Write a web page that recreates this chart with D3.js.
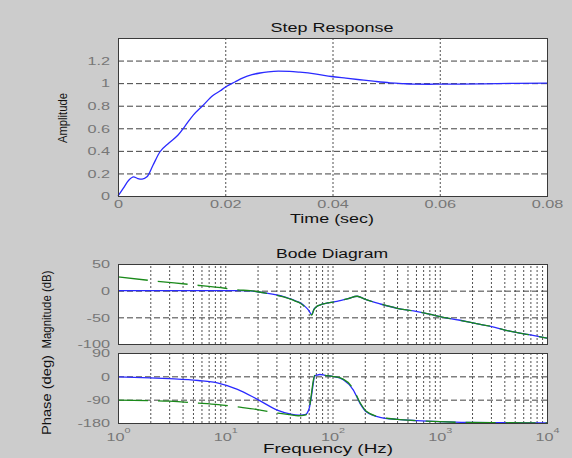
<!DOCTYPE html>
<html>
<head>
<meta charset="utf-8">
<script src="https://cdn.jsdelivr.net/npm/d3@7"></script>
<style>
body { margin: 0; background: #cccccc; }
text { font-family: "Liberation Sans", Arial, sans-serif; }
</style>
</head>
<body>
<svg id="fig" width="572" height="458"></svg>
<script>
// step response (sec, amplitude)
const stepTime = [0, 0.001, 0.002, 0.0029, 0.0037, 0.0045, 0.0054, 0.0065, 0.0078, 0.0095, 0.0112, 0.0125, 0.014, 0.0158, 0.0177, 0.019, 0.0202, 0.0218, 0.0233, 0.025, 0.0265, 0.028, 0.0299, 0.032, 0.0339, 0.037, 0.0398, 0.0425, 0.0451, 0.048, 0.0507, 0.053, 0.0551, 0.058, 0.0601, 0.064, 0.0682, 0.074, 0.08];
const stepAmp  = [0, 0.07, 0.14, 0.17, 0.155, 0.15, 0.17, 0.27, 0.39, 0.47, 0.54, 0.62, 0.715, 0.80, 0.89, 0.93, 0.97, 1.01, 1.047, 1.075, 1.09, 1.1, 1.106, 1.104, 1.097, 1.08, 1.059, 1.044, 1.03, 1.015, 1.003, 0.996, 0.991, 0.99, 0.991, 0.992, 0.994, 0.998, 1.0];

// bode magnitude (Hz, dB)
const magFreq  = [1, 2, 5, 10, 13, 17, 20, 25, 30, 35, 40, 45, 50, 55, 60, 64, 67, 70, 76, 90, 110, 140, 170, 200, 280, 400, 570, 800, 1075, 1500, 2200, 3000, 4500, 7000, 10000];
const magBlue  = [0, 0, 0, 0, 0, -0.5, -2, -5, -8, -11, -15, -19, -23, -29, -37, -45, -35, -31, -27, -23, -20, -15, -10.5, -16, -25, -33, -38, -44, -50, -55, -62, -67, -76, -83, -89];
const magGreen = [26, 19, 11, 4.5, 1.5, 0, -2, -5.5, -8.5, -11.5, -15.5, -19.5, -23.5, -30, -38, -46, -36, -31, -27, -23, -20, -15, -10.5, -16, -25, -33, -38, -44, -50, -55, -62, -67, -76, -83, -89];

// bode phase (Hz, deg)
const phFreq  = [1, 2, 3, 5.6, 8.6, 13, 20, 31, 40, 48, 55, 58, 61, 63.5, 66, 68, 72, 76, 85, 100, 126, 156, 181, 208, 277, 400, 610, 1000, 1780, 4000, 10000];
const phBlue  = [-2, -6, -9, -16, -26, -50, -89, -131, -145, -150, -148, -142, -120, -79, -30, 0, 5, 7, 4, 0, -13, -52, -105, -138, -158, -166, -171, -175, -178, -179, -180];
const phGreen = [-92, -94, -96, -103, -109, -118, -128, -142, -148, -152, -150, -145, -118, -70, -20, 2, 7, 8, 4, 0, -11, -48, -102, -136, -157, -166, -171, -175, -178, -179, -180];

const stepXTicks = [0, 0.02, 0.04, 0.06, 0.08];
const stepYTicks = [0, 0.2, 0.4, 0.6, 0.8, 1, 1.2];
const magTicks = [-100, -50, 0, 50];
const phTicks = [-180, -90, 0, 90];
const decades = [1, 10, 100, 1000, 10000];

const svg = d3.select('#fig');
svg.append('rect').attr('width', 572).attr('height', 458).attr('fill', '#cccccc');

const left = 118, right = 547;
const sx = 1.55; // tick label stretch

const xStep = d3.scaleLinear().domain([0, 0.08]).range([left, right]);
const yStep = d3.scaleLinear().domain([0, 1.4]).range([196, 38]);
const xF = d3.scaleLog().domain([1, 1e4]).range([left, right]);
const yMag = d3.scaleLinear().domain([-100, 50]).range([344, 264]);
const yPh = d3.scaleLinear().domain([-180, 90]).range([423, 353]);

function box(top, bottom) {
  svg.append('rect')
    .attr('x', left).attr('y', top)
    .attr('width', right - left).attr('height', bottom - top)
    .attr('fill', '#fff');
}
function outline(top, bottom) {
  svg.append('rect')
    .attr('x', left + 0.5).attr('y', top + 0.5)
    .attr('width', right - left).attr('height', bottom - top)
    .attr('fill', 'none').attr('stroke', '#3a3a3a').attr('stroke-width', 1);
}
function vgrid(x, vals, top, bottom) {
  svg.append('g').attr('transform', `translate(0,${bottom})`)
    .call(d3.axisBottom(x).tickValues(vals).tickSize(-(bottom - top)).tickFormat(''))
    .call(g => g.select('.domain').remove())
    .selectAll('line').attr('stroke', '#505050').attr('stroke-dasharray', '2,2');
}
function hgrid(y, vals) {
  svg.append('g').attr('transform', `translate(${left},0)`)
    .call(d3.axisLeft(y).tickValues(vals).tickSize(-(right - left)).tickFormat(''))
    .call(g => g.select('.domain').remove())
    .selectAll('line').attr('stroke', '#404040').attr('stroke-dasharray', '6,3');
}
function yLabels(y, vals, fmt) {
  svg.append('g').attr('transform', `translate(${left},0)`)
    .call(d3.axisLeft(y).tickValues(vals).tickSize(0).tickFormat(fmt))
    .call(g => g.select('.domain').remove())
    .selectAll('text')
    .attr('x', -8 / sx).attr('dy', '0.36em')
    .attr('transform', `scale(${sx},1)`)
    .attr('font-size', 10.5).attr('fill', '#777');
}
function title(txt, x, y, len) {
  svg.append('text').attr('x', x).attr('y', y)
    .attr('text-anchor', 'middle').attr('font-size', 12.5).attr('fill', '#111')
    .attr('textLength', len).attr('lengthAdjust', 'spacingAndGlyphs')
    .text(txt);
}
function ylabel(txt, x, y, len) {
  svg.append('text').attr('transform', `translate(${x},${y}) rotate(-90)`)
    .attr('text-anchor', 'middle').attr('font-size', 12.5).attr('fill', '#111')
    .attr('textLength', len).attr('lengthAdjust', 'spacingAndGlyphs')
    .text(txt);
}

// ---- step response ----
box(38, 196);
vgrid(xStep, [0.02, 0.04, 0.06], 38, 196);
hgrid(yStep, stepYTicks.slice(1));
svg.append('path')
  .attr('d', d3.line().x((d, i) => xStep(stepTime[i])).y(d => yStep(d)).curve(d3.curveMonotoneX)(stepAmp))
  .attr('fill', 'none').attr('stroke', '#2b2bff').attr('stroke-width', 1.3);
outline(38, 196);

svg.append('g').attr('transform', 'translate(0,196)')
  .call(d3.axisBottom(xStep).tickValues(stepXTicks).tickSize(0).tickFormat(d => d === 0 ? '0' : d.toFixed(2)))
  .call(g => g.select('.domain').remove())
  .selectAll('text')
  .attr('y', 12.5).attr('dy', null)
  .attr('transform', `scale(${sx},1)`)
  .attr('font-size', 10.5).attr('fill', '#777');
yLabels(yStep, stepYTicks, d => String(+d.toFixed(1)));

title('Step Response', 332, 31.5, 123);
title('Time (sec)', 332, 222.5, 84);
ylabel('Amplitude', 67, 118, 50);

// ---- bode ----
const minor = [];
[1, 10, 100, 1000].forEach(dec => {
  for (let m = 1; m <= 9; m++) {
    if (dec * m > 1) minor.push(dec * m);
  }
});

const lineF = (fs, ys, y) => d3.line().x((d, i) => xF(fs[i])).y(d => y(d)).curve(d3.curveMonotoneX)(ys);

// magnitude
box(264, 344);
vgrid(xF, minor, 264, 344);
hgrid(yMag, [-50, 0]);
svg.append('path').attr('d', lineF(magFreq, magBlue, yMag))
  .attr('fill', 'none').attr('stroke', '#2b2bff').attr('stroke-width', 1.3);
svg.append('path').attr('d', lineF(magFreq, magGreen, yMag))
  .attr('fill', 'none').attr('stroke', '#1a8a1a').attr('stroke-width', 1.3)
  .attr('stroke-dasharray', '30,10');
outline(264, 344);
yLabels(yMag, magTicks, d => String(d));

// phase
box(353, 423);
vgrid(xF, minor, 353, 423);
hgrid(yPh, [-90, 0]);
svg.append('path').attr('d', lineF(phFreq, phBlue, yPh))
  .attr('fill', 'none').attr('stroke', '#2b2bff').attr('stroke-width', 1.3);
svg.append('path').attr('d', lineF(phFreq, phGreen, yPh))
  .attr('fill', 'none').attr('stroke', '#1a8a1a').attr('stroke-width', 1.3)
  .attr('stroke-dasharray', '30,10');
outline(353, 423);
yLabels(yPh, phTicks, d => String(d));

svg.append('g').attr('transform', 'translate(0,423)')
  .call(d3.axisBottom(xF).tickValues(decades).tickSize(0).tickFormat(''))
  .call(g => g.select('.domain').remove())
  .selectAll('text')
  .attr('y', 18.5).attr('dy', null)
  .attr('transform', `scale(${sx},1)`)
  .attr('font-size', 10.5).attr('fill', '#777')
  .each(function(d) {
    const t = d3.select(this);
    t.append('tspan').text('10');
    t.append('tspan').attr('dy', -8).attr('font-size', 7).text(Math.round(Math.log10(d)));
  });

title('Bode Diagram', 332, 257.5, 112);
title('Frequency  (Hz)', 328, 453, 130);
ylabel('Magnitude (dB)', 51, 309.5, 78);
ylabel('Phase (deg)', 51, 395, 80);
</script>
</body>
</html>
